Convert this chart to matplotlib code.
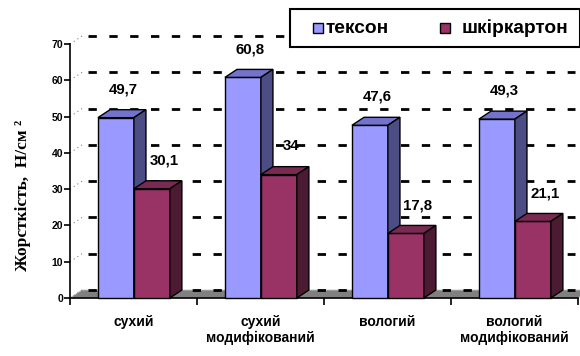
import matplotlib.pyplot as plt
from matplotlib.patches import Polygon, Rectangle

categories = ["сухий", "сухий\nмодифікований", "вологий", "вологий\nмодифікований"]
series_names = ["тексон", "шкіркартон"]
texson = [49.7, 60.8, 47.6, 49.3]
shkirkarton = [30.1, 34, 17.8, 21.1]
value_labels = [["49,7", "60,8", "47,6", "49,3"], ["30,1", "34", "17,8", "21,1"]]
y_ticks = [0, 10, 20, 30, 40, 50, 60, 70]

# colours: front, top, side
palette = [("#9999ff", "#7373cc", "#4d4d86"), ("#993366", "#7a2952", "#4d1a33")]

sans = "Liberation Sans"
serif = "Liberation Serif"

DX, DY = 0.095, 2.2      # depth of the 3d effect (x in category units, y in value units)
BAR_W = 0.283
BAR_X0 = 0.22

W, H = 580, 356
fig = plt.figure(figsize=(W / 100, H / 100), dpi=100)
ax = fig.add_axes([70 / W, 58 / H, 508 / W, 254 / H])
ax.set_xlim(0, 4)
ax.set_ylim(0, 70)
for s in ["top", "right"]:
    ax.spines[s].set_visible(False)
ax.spines["left"].set_linewidth(1.2)
ax.spines["bottom"].set_linewidth(1.2)

# floor
floor = Polygon([(0, 0), (4, 0), (4 + DX, DY), (DX, DY)], closed=True,
                facecolor="#808080", edgecolor="#c0c0c0", lw=0.6, clip_on=False, zorder=1)
ax.add_patch(floor)

# gridlines on the back wall
for v in y_ticks:
    ax.plot([0, DX], [v, v + DY], color="#808080", lw=0.8, ls=(0, (1, 3)), clip_on=False, zorder=1)
    ax.plot([DX + 0.05, 4 - 0.02], [v + DY, v + DY], color="black", lw=2.0,
            ls=(0, (3, 4.5)), clip_on=False, zorder=1.5)


def bar3d(x, h, colors):
    front, top, side = colors
    kw = dict(closed=True, edgecolor="black", lw=1.0, clip_on=False, zorder=3)
    ax.add_patch(Polygon([(x, 0), (x + BAR_W, 0), (x + BAR_W, h), (x, h)], facecolor=front, **kw))
    ax.add_patch(Polygon([(x, h), (x + BAR_W, h), (x + BAR_W + DX, h + DY), (x + DX, h + DY)],
                         facecolor=top, **kw))
    ax.add_patch(Polygon([(x + BAR_W, 0), (x + BAR_W + DX, DY), (x + BAR_W + DX, h + DY),
                          (x + BAR_W, h)], facecolor=side, **kw))


for i in range(len(categories)):
    for j, values in enumerate([texson, shkirkarton]):
        x = i + BAR_X0 + j * BAR_W
        bar3d(x, values[i], palette[j])
        ax.text(x + BAR_W / 2 + DX * (0.6 + 0.4 * j), values[i] + 7.8, value_labels[j][i],
                ha="center", va="center", fontsize=10.8, fontweight="bold",
                family=sans, zorder=4)

ax.set_yticks(y_ticks)
ax.set_yticklabels([str(v) for v in y_ticks], fontsize=7.5, fontweight="bold", family=sans)
ax.tick_params(axis="y", length=4, width=1.2, pad=1)
ax.set_xticks([0, 1, 2, 3, 4])
ax.set_xticklabels([])
ax.set_xticks([0.5, 1.5, 2.5, 3.5], minor=True)
ax.set_xticklabels(categories, minor=True, fontsize=10, fontweight="bold", family=sans,
                   linespacing=1.2, va="top")
ax.tick_params(axis="x", which="major", length=5, width=1.2, direction="out")
ax.tick_params(axis="x", which="minor", length=0, pad=12)

fig.text(23 / W, 1 - 195 / H, "Жорсткість,  Н/см ²", rotation=90, ha="center", va="center",
         fontsize=12.5, fontweight="bold", family=serif)

# legend box drawn in pixel units of the figure
fig.patches.append(Rectangle((290 / W, 1 - 47 / H), 290 / W, 38 / H, transform=fig.transFigure,
                             facecolor="white", edgecolor="black", lw=1.5, zorder=5))
for k, (mx, tx) in enumerate([(313, 326), (440, 462)]):
    fig.patches.append(Rectangle((mx / W, 1 - 33 / H), 10 / W, 10 / H, transform=fig.transFigure,
                                 facecolor=palette[k][0], edgecolor="black", lw=1.0, zorder=6))
    fig.text(tx / W, 1 - 28.5 / H, series_names[k], ha="left", va="center", fontsize=13.8,
             fontweight="bold", family=sans, zorder=6)

fig.savefig("out.png", dpi=100)
